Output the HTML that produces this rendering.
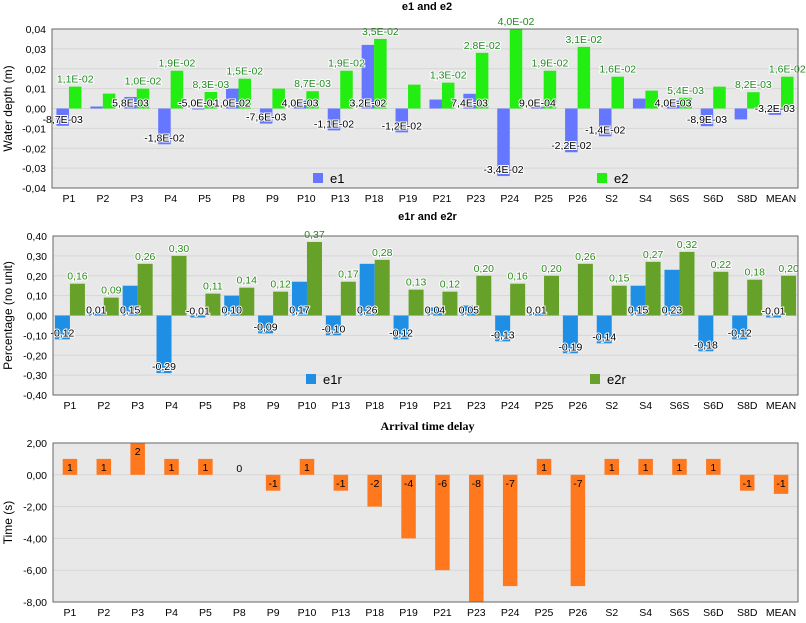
<!DOCTYPE html>
<html><head><meta charset="utf-8"><style>
body{margin:0;background:#fff;}
svg text{font-family:"Liberation Sans",sans-serif;}
</style></head><body>
<svg id="c" width="806" height="618" xmlns="http://www.w3.org/2000/svg"></svg>
<script>
const categories=["P1","P2","P3","P4","P5","P8","P9","P10","P13","P18","P19","P21","P23","P24","P25","P26","S2","S4","S6S","S6D","S8D","MEAN"];
const e1=[-0.0087,0.001,0.0058,-0.018,-0.0005,0.010,-0.0076,0.004,-0.011,0.032,-0.012,0.0045,0.0074,-0.034,0.0009,-0.022,-0.014,0.005,0.004,-0.0089,-0.0055,-0.0032];
const e1Labels=["-8,7E-03",null,"5,8E-03","-1,8E-02","-5,0E-04","1,0E-02","-7,6E-03","4,0E-03","-1,1E-02","3,2E-02","-1,2E-02",null,"7,4E-03","-3,4E-02","9,0E-04","-2,2E-02","-1,4E-02",null,"4,0E-03","-8,9E-03",null,"-3,2E-03"];
const e2=[0.011,0.0075,0.010,0.019,0.0083,0.015,0.010,0.0087,0.019,0.035,0.012,0.013,0.028,0.040,0.019,0.031,0.016,0.009,0.0054,0.011,0.0082,0.016];
const e2Labels=["1,1E-02",null,"1,0E-02","1,9E-02","8,3E-03","1,5E-02",null,"8,7E-03","1,9E-02","3,5E-02",null,"1,3E-02","2,8E-02","4,0E-02","1,9E-02","3,1E-02","1,6E-02",null,"5,4E-03",null,"8,2E-03","1,6E-02"];
const e1r=[-0.12,0.01,0.15,-0.29,-0.01,0.10,-0.09,0.17,-0.10,0.26,-0.12,0.04,0.05,-0.13,0.01,-0.19,-0.14,0.15,0.23,-0.18,-0.12,-0.01];
const e2r=[0.16,0.09,0.26,0.30,0.11,0.14,0.12,0.37,0.17,0.28,0.13,0.12,0.20,0.16,0.20,0.26,0.15,0.27,0.32,0.22,0.18,0.20];
const delay=[1,1,2,1,1,0,-1,1,-1,-2,-4,-6,-8,-7,1,-7,1,1,1,1,-1,-1.2];
const delayLabels=["1","1","2","1","1","0","-1","1","-1","-2","-4","-6","-8","-7","1","-7","1","1","1","1","-1","-1"];
const ticks1=[0.04,0.03,0.02,0.01,0,-0.01,-0.02,-0.03,-0.04];
const ticks1Labels=["0,04","0,03","0,02","0,01","0,00","-0,01","-0,02","-0,03","-0,04"];
const ticks2=[0.4,0.3,0.2,0.1,0,-0.1,-0.2,-0.3,-0.4];
const ticks2Labels=["0,40","0,30","0,20","0,10","0,00","-0,10","-0,20","-0,30","-0,40"];
const ticks3=[2,0,-2,-4,-6,-8];
const ticks3Labels=["2,00","0,00","-2,00","-4,00","-6,00","-8,00"];

const svg=document.getElementById('c');
const NS="http://www.w3.org/2000/svg";
function mk(tag,attrs,parent){const e=document.createElementNS(NS,tag);for(const k in attrs)e.setAttribute(k,attrs[k]);(parent||svg).appendChild(e);return e;}
function txt(s,x,y,attrs,parent){const t=mk('text',Object.assign({x:x,y:y},attrs),parent);t.textContent=s;return t;}

function panel(o){
  const g=mk('g',{});
  
  
  const L=o.left,R=798,T=o.top,B=o.bottom;
  const yMax=o.ticks[0],yMin=o.ticks[o.ticks.length-1];
  const y=v=>T+(yMax-v)/(yMax-yMin)*(B-T);
  const bw=(R-L)/categories.length;
  const x=i=>L+bw*i+bw/2;
  const t=txt(o.title,(L+R)/2+2,o.titleY,{'text-anchor':'middle','font-size':o.titleSize||'11','font-weight':'bold',style:'font-family:'+(o.titleFont||'"Liberation Sans",sans-serif')},g);
  
  
  const bg=mk('rect',{x:L,y:T,width:R-L,height:B-T,fill:'#e8e8e8'},g);
  
  
  o.ticks.forEach((v,i)=>{
    const yy=y(v);
    mk('line',{x1:L,x2:R,y1:yy,y2:yy,stroke:'#d6d6d6','stroke-width':1},g);
    const tl=txt(o.tickLabels[i],L-6,yy+4,{'text-anchor':'end','font-size':'10.5',fill:'#000'},g);
    
    
  });
  const yt=txt(o.yTitle,0,0,{'text-anchor':'middle','font-size':'12',transform:`translate(12,${(T+B)/2}) rotate(-90)`},g);
  
  
  const zero=y(0);
  o.series.forEach((s,si)=>{
    s.values.forEach((v,i)=>{
      const bx=o.series.length===2?(si===0?x(i)-o.barW:x(i)):x(i)-o.barW/2;
      const r=mk('rect',{x:bx,y:Math.min(y(v),zero),width:o.barW,height:Math.abs(y(v)-zero),fill:s.color},g);
      
      
    });
  });
  o.series.forEach((s,si)=>{
    s.values.forEach((v,i)=>{
      const lab=s.labels[i]; if(lab==null)return;
      const cx=o.series.length===2?(si===0?x(i)-o.barW/2:x(i)+o.barW/2):x(i);
      let yy;
      if(s.mode==='top') yy=y(v)-4;
      else if(s.mode==='inner') yy=v>0?zero-2:y(v)-3;
      else yy=v>0?y(v)+12:(v<0?zero+12:zero-3);
      const tl=txt(lab,cx,yy,{'text-anchor':'middle','font-size':'10.5',fill:s.labelColor,stroke:s.halo?'#fff':'none','stroke-width':s.halo?2:0,'paint-order':'stroke'},g);
      
      
    });
  });
  mk('rect',{x:L,y:T,width:R-L,height:B-T,fill:'none',stroke:'#666','stroke-width':1},g);
  categories.forEach((c,i)=>{
    const tl=txt(c,x(i),B+14,{'text-anchor':'middle','font-size':'10.5'},g);
    
    
  });
  (o.legend||[]).forEach(l=>{
    const sw=mk('rect',{x:l.x,y:l.y,width:10,height:10,fill:l.color},g);
    
    
    const lt=txt(l.text,l.x+17,l.y+10,{'font-size':'13'},g);
    
    
  });
}

panel({name:'e1-e2-chart',title:'e1 and e2',titleY:10,left:52,top:29,bottom:188,ticks:ticks1,tickLabels:ticks1Labels,yTitle:'Water depth (m)',barW:12.5,
  series:[{key:'e1',values:e1,labels:e1Labels,color:'#6677ff',labelColor:'#000',mode:'inner',halo:true},
          {key:'e2',values:e2,labels:e2Labels,color:'#22ee11',labelColor:'#1f8a1f',mode:'top',halo:true}],
  legend:[{x:313,y:173,color:'#6677ff',text:'e1'},{x:597,y:173,color:'#22ee11',text:'e2'}]});
panel({name:'e1r-e2r-chart',title:'e1r and e2r',titleY:220,left:53,top:236,bottom:395,ticks:ticks2,tickLabels:ticks2Labels,yTitle:'Percentage (no unit)',barW:15,
  series:[{key:'e1r',values:e1r,labels:e1r.map(v=>v.toFixed(2).replace('.',',')),color:'#1f8fe5',labelColor:'#000',mode:'inner',halo:true},
          {key:'e2r',values:e2r,labels:e2r.map(v=>v.toFixed(2).replace('.',',')),color:'#66a22a',labelColor:'#2a8a1a',mode:'top',halo:true}],
  legend:[{x:306,y:374,color:'#1f8fe5',text:'e1r'},{x:590,y:374,color:'#66a22a',text:'e2r'}]});
panel({name:'arrival-delay-chart',title:'Arrival time delay',titleY:430,titleSize:'12',titleFont:'"Liberation Serif",serif',left:53,top:443,bottom:602,ticks:ticks3,tickLabels:ticks3Labels,yTitle:'Time (s)',barW:14.5,
  series:[{key:'delay',values:delay,labels:delayLabels,color:'#ff781e',labelColor:'#000',mode:'delay',halo:false}]});
</script>
</body></html>
